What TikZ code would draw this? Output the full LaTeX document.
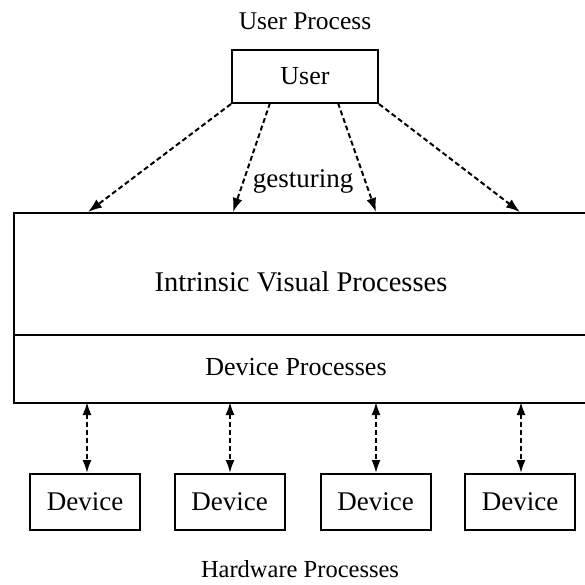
\documentclass[tikz,border=0pt]{standalone}
\usepackage{fontspec}
\setmainfont{Liberation Serif}
\usetikzlibrary{arrows.meta}
\begin{document}
\begin{tikzpicture}[x=1pt,y=-1pt,
  box/.style={draw,line width=2pt,inner sep=0pt},
  devbox/.style={box,minimum width=110pt,minimum height=56pt,font=\fontsize{27}{30}\selectfont},
  darrow/.style={line width=2pt,dash pattern=on 5pt off 3pt,-{Latex[length=14pt,width=10pt]}},
  ddarrow/.style={line width=2pt,dash pattern=on 5pt off 3pt,{Latex[length=13pt,width=9pt]}-{Latex[length=13pt,width=9pt]}},
  lbl/.style={inner sep=0pt}]
\useasboundingbox (0,0) rectangle (585,584);
\clip (0,0) rectangle (585,584);
\node[lbl,font=\fontsize{25.5}{28}\selectfont] (up) at (305,21) {User Process};
\node[box,minimum width=146pt,minimum height=53pt,font=\fontsize{26}{30}\selectfont] (user) at (305,76.5) {User};
\node[box,anchor=north west,minimum width=600pt,minimum height=190pt] (ivp) at (13,212) {};
\draw[line width=1.5pt] (13,335) coordinate (dl) -- (600,335) coordinate (dr);
\node[lbl,font=\fontsize{28.5}{32}\selectfont] (ivpt) at (301,282) {Intrinsic Visual Processes};
\node[lbl,font=\fontsize{26}{30}\selectfont] (dpt) at (296,367) {Device Processes};
\node[lbl,font=\fontsize{27}{30}\selectfont] (gest) at (303,181) {gesturing};
\coordinate (t1) at (88,212);
\coordinate (t2) at (233,212);
\coordinate (t3) at (376,212);
\coordinate (t4) at (520,212);
\coordinate (u2) at (270,103);
\coordinate (u3) at (338,103);
\draw[darrow] (user.south west) -- (t1);
\draw[darrow] (u2) -- (t2);
\draw[darrow] (u3) -- (t3);
\draw[darrow] (user.south east) -- (t4);
\node[devbox] (d1) at (85,502) {Device};
\node[devbox] (d2) at (229.5,502) {Device};
\node[devbox] (d3) at (375.5,502) {Device};
\node[devbox] (d4) at (520,502) {Device};
\coordinate (b1) at (87,402);
\coordinate (b2) at (230,402);
\coordinate (b3) at (376,402);
\coordinate (b4) at (521,402);
\draw[ddarrow] (b1) -- (b1 |- d1.north);
\draw[ddarrow] (b2) -- (b2 |- d2.north);
\draw[ddarrow] (b3) -- (b3 |- d3.north);
\draw[ddarrow] (b4) -- (b4 |- d4.north);
\node[lbl,font=\fontsize{24.5}{28}\selectfont] (hp) at (300,569) {Hardware Processes};
\end{tikzpicture}
\end{document}
